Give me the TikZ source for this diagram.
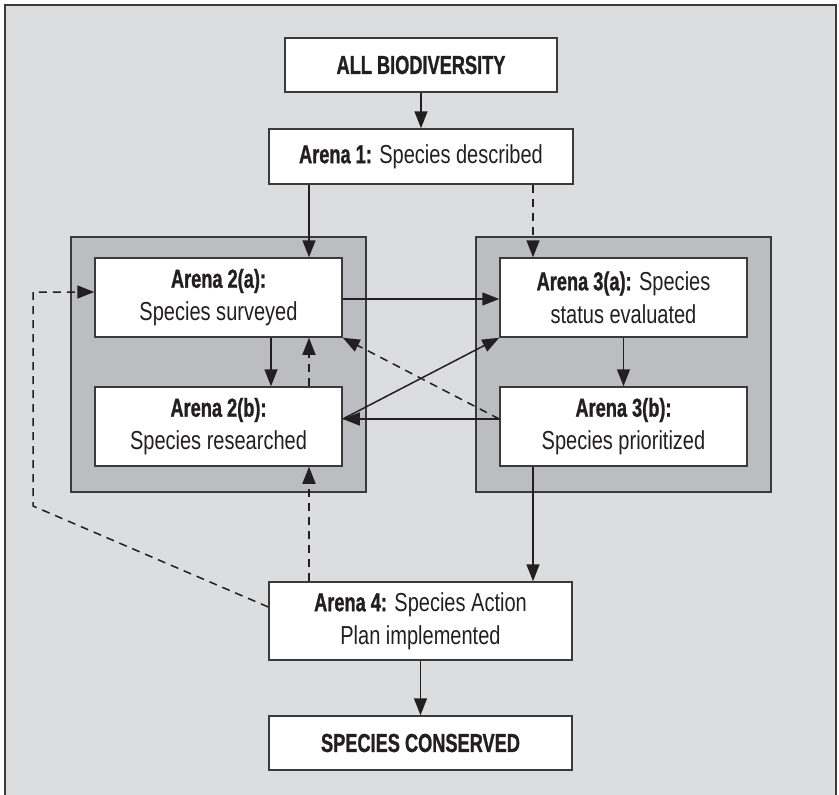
\documentclass[tikz,border=0pt]{standalone}
\usepackage{fontspec}
\setmainfont{Liberation Sans}[FakeStretch=0.77, BoldFeatures={FakeStretch=0.70, FakeBold=1}]
\usetikzlibrary{arrows.meta}
\definecolor{panelbg}{HTML}{DCDDDF}
\definecolor{groupbg}{HTML}{BCBDC0}
\definecolor{edge}{HTML}{3A3A3A}
\definecolor{ink}{HTML}{231F20}

\begin{document}
\begin{tikzpicture}[x=1pt, y=-1pt,
  box/.style={draw=edge, line width=1.5pt, fill=white, text=ink, align=center,
              inner sep=0pt, font=\fontsize{26}{33}\selectfont},
  wide/.style={minimum width=303pt},
  stage/.style={minimum width=247pt, minimum height=79pt},
  flow/.style={draw=ink, line width=1.5pt, -{Triangle[length=17pt, width=13pt]}},
  weak/.style={flow, dash pattern=on 8pt off 6pt},
  group/.style={draw=edge, line width=1.5pt, fill=groupbg}]

  \useasboundingbox (0,0) rectangle (839,795);

  % panel background, open at the bottom
  \fill[panelbg] (5,5) rectangle (836,795);
  \draw[edge, line width=1.8pt] (5,795) -- (5,5) -- (836,5) -- (836,795);

  % grey groups holding arenas 2 and 3
  \draw[group] (71,237) rectangle (366,492);
  \draw[group] (476,237) rectangle (771,492);

  % boxes
  \node[box, minimum width=272pt, minimum height=54pt] (all) at (421,65)
    {\textbf{ALL BIODIVERSITY}};
  \node[box, minimum width=304pt, minimum height=55pt] (a1) at (421,156.5)
    {\textbf{Arena 1:} Species described};
  \node[box, stage] (a2a) at (218.5,297.5) {\textbf{Arena 2(a):}\\Species surveyed};
  \node[box, stage] (a2b) at (218.5,426.5) {\textbf{Arena 2(b):}\\Species researched};
  \node[box, stage] (a3a) at (623.5,297.5) {\textbf{Arena 3(a):} Species\\status evaluated};
  \node[box, stage] (a3b) at (623.5,426.5) {\textbf{Arena 3(b):}\\Species prioritized};
  \node[box, wide, minimum height=78pt] (a4) at (420.5,621)
    {\textbf{Arena 4:} Species Action\\Plan implemented};
  \node[box, wide, minimum height=54pt] (sc) at (420.5,743)
    {\textbf{SPECIES CONSERVED}};

  % guide columns and rows for the connectors
  \coordinate (colA) at (271,0);
  \coordinate (colB) at (309,0);
  \coordinate (colC) at (533,0);
  \coordinate (rowTop) at (0,299);
  \coordinate (rowLow) at (0,419);
  \coordinate (rowA4) at (0,607);
  \coordinate (loopbot) at (33,506);
  \coordinate (looptop) at (33,292);

  % solid connectors
  \draw[flow] (all) -- (a1);
  \draw[flow] (a1.south -| colB) -- (a2a.north -| colB);
  \draw[flow] (a2a.south -| colA) -- (a2b.north -| colA);
  \draw[flow] (a2a.east |- rowTop) -- (a3a.west |- rowTop);
  \draw[flow] (a3a) -- (a3b);
  \draw[flow] (a3b.west |- rowLow) -- (a2b.east |- rowLow);
  \draw[flow] (a2b.east |- rowLow) -- (a3a.south west);
  \draw[flow] (a3b.south -| colC) -- (a4.north -| colC);
  \draw[flow] (a4) -- (sc);

  % dashed connectors
  \draw[weak] (a1.south -| colC) -- (a3a.north -| colC);
  \draw[weak] (a2b.north -| colB) -- (a2a.south -| colB);
  \draw[weak] (a4.north -| colB) -- (a2b.south -| colB);
  \draw[weak] (a3b.west |- rowLow) -- (a2a.south east);
  \draw[weak] (a4.west |- rowA4) -- (loopbot) -- (looptop) -- (a2a.west |- looptop);
\end{tikzpicture}
\end{document}
